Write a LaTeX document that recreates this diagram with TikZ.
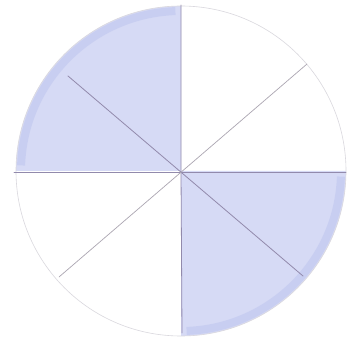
\documentclass[tikz,border=0pt]{standalone}
\usetikzlibrary{calc}
\begin{document}
\begin{tikzpicture}[x=1pt,y=1pt,
  shadefill/.style={fill={rgb,255:red,214;green,218;blue,245}, draw=none},
  rim/.style={draw={rgb,255:red,188;green,196;blue,238}, line width=8pt, opacity=0.5},
  pencil/.style={draw={rgb,255:red,146;green,138;blue,172}, line width=0.8pt, line cap=round},
  pencillight/.style={draw={rgb,255:red,172;green,166;blue,178}, line width=0.7pt, line cap=round},
  outline/.style={draw={rgb,255:red,218;green,216;blue,222}, line width=0.6pt}]
\useasboundingbox (0,0) rectangle (349,338);
\fill[white] (0,0) rectangle (349,338);
\coordinate (C) at (181,167);
\coordinate (T) at (181,333);
\coordinate (B) at (182,5);
\coordinate (L) at (14,166);
\coordinate (R) at (346,166);
\coordinate (UL) at (68,262);
\coordinate (LR) at (303,62);
\coordinate (UR) at (307,274);
\coordinate (LL) at (59,61);
% shaded quadrants
\path[shadefill] (C) -- ++(90:165) arc[start angle=90,end angle=180,radius=165] -- cycle;
\path[shadefill] (C) -- ++(270:165) arc[start angle=270,end angle=360,radius=165] -- cycle;
\draw[rim] ($(C)+(92:160)$) arc[start angle=92,end angle=178,radius=160];
\draw[rim] ($(C)+(272:160)$) arc[start angle=272,end angle=358,radius=160];
% circle
\draw[outline] (C) circle[radius=165];
% lines
\draw[pencil] (T) -- (C) -- (B);
\draw[pencil] (L) -- (R);
\draw[pencil] (UL) -- (LR);
\draw[pencillight] (UR) -- (LL);
\end{tikzpicture}
\end{document}
